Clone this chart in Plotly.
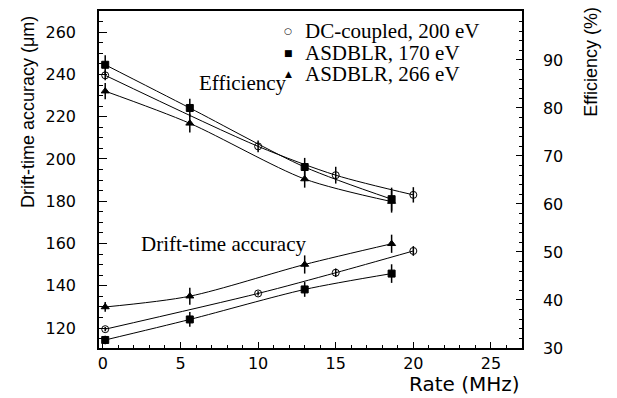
import plotly.graph_objects as go

# ---- data ----
rate_dc = [0.15, 10, 15, 20]
rate_asd = [0.15, 5.6, 13, 18.6]

eff_dc = [86.8, 72.0, 66.0, 61.9]
eff_dc_err = [1.0, 1.2, 1.75, 1.6]
eff_170 = [89.0, 80.0, 67.7, 61.0]
eff_170_err = [2.0, 1.9, 1.9, 2.4]
eff_266 = [83.5, 76.8, 65.2, 60.5]
eff_266_err = [1.7, 1.9, 1.8, 2.3]

acc_dc = [119.5, 136.4, 146.2, 156.5]
acc_dc_err = [1.0, 1.0, 2.0, 2.3]
acc_170 = [114.4, 124.1, 138.3, 145.8]
acc_170_err = [2.0, 3.5, 3.5, 4.4]
acc_266 = [130.0, 135.1, 150.1, 159.9]
acc_266_err = [2.3, 4.0, 4.3, 4.3]

series_names = ["DC-coupled, 200 eV", "ASDBLR, 170 eV", "ASDBLR, 266 eV"]
legend_symbols = ["○", "■", "▲"]

x_ticks = [0, 5, 10, 15, 20, 25]
left_ticks = [120, 140, 160, 180, 200, 220, 240, 260]
right_ticks = [30, 40, 50, 60, 70, 80, 90, 100]

symbols = ["circle-open", "square", "triangle-up"]

fig = go.Figure()

groups = [
    (rate_dc, eff_dc, eff_dc_err, acc_dc, acc_dc_err),
    (rate_asd, eff_170, eff_170_err, acc_170, acc_170_err),
    (rate_asd, eff_266, eff_266_err, acc_266, acc_266_err),
]

for i, (xs, eff, effe, acc, acce) in enumerate(groups):
    for ys, es, ax in ((eff, effe, "y2"), (acc, acce, "y")):
        fig.add_trace(go.Scatter(
            x=xs, y=ys, yaxis=ax, mode="lines+markers",
            line=dict(color="black", width=1, shape="spline", smoothing=0.8),
            marker=dict(symbol=symbols[i], size=7, color="black",
                        line=dict(color="black", width=1)),
            error_y=dict(type="data", array=es, visible=True,
                         color="black", thickness=1.5, width=0),
            showlegend=False, name=series_names[i],
        ))

tick_font = dict(family="DejaVu Sans", size=16, color="black")

# the page body adds an 8px margin, so the figure is sized to fit the window
fig.update_layout(
    width=609, height=390,
    margin=dict(l=91, r=95, t=1, b=50),
    paper_bgcolor="white", plot_bgcolor="white",
    showlegend=False,
    xaxis=dict(
        range=[-0.25, 27], tickvals=x_ticks, ticks="inside", ticklen=6,
        tickwidth=1.2, tickcolor="black", showline=True, linecolor="black",
        linewidth=1.5, mirror=True, showgrid=False, zeroline=False,
        tickfont=tick_font,
        minor=dict(dtick=1, ticks="inside", ticklen=3, tickcolor="black"),
    ),
    yaxis=dict(
        range=[110.6, 270], tickvals=left_ticks, ticks="inside", ticklen=8,
        tickwidth=1.2, tickcolor="black", showline=True, linecolor="black",
        linewidth=1.5, showgrid=False, zeroline=False, tickfont=tick_font,
        ticklabelstandoff=18,
        minor=dict(dtick=5, ticks="inside", ticklen=4, tickcolor="black"),
    ),
    yaxis2=dict(
        range=[30, 100.2], tickvals=right_ticks, overlaying="y", side="right",
        ticks="inside", ticklen=6, tickwidth=1.2, tickcolor="black",
        showline=True, linecolor="black", linewidth=1.5, showgrid=False,
        zeroline=False, tickfont=tick_font, ticklabelstandoff=16,
        minor=dict(dtick=2, ticks="inside", ticklen=3, tickcolor="black"),
    ),
)

ann = []
sans = "Liberation Sans"
serif = "Liberation Serif"
ann.append(dict(text="Drift-time accuracy (μm)", xref="paper", yref="paper",
                x=-0.168, y=0.700, textangle=-90, showarrow=False,
                font=dict(family=sans, size=18, color="black"),
                xanchor="center", yanchor="middle"))
ann.append(dict(text="Efficiency (%)", xref="paper", yref="paper",
                x=1.161, y=0.85, textangle=-90, showarrow=False,
                font=dict(family=sans, size=18, color="black"),
                xanchor="center", yanchor="middle"))
ann.append(dict(text="Rate (MHz)", xref="paper", yref="paper",
                x=1.0, y=-0.108, showarrow=False,
                font=dict(family="DejaVu Sans", size=20, color="black"),
                xanchor="right", yanchor="middle"))
ann.append(dict(text="Efficiency", xref="paper", yref="paper",
                x=0.340, y=0.786, showarrow=False,
                font=dict(family=serif, size=21, color="black"),
                xanchor="center", yanchor="middle"))
ann.append(dict(text="Drift-time accuracy", xref="paper", yref="paper",
                x=0.2955, y=0.310, showarrow=False,
                font=dict(family=serif, size=21, color="black"),
                xanchor="center", yanchor="middle"))

legend_y = [0.940, 0.876, 0.814]
for name, sym, ly in zip(series_names, legend_symbols, legend_y):
    ann.append(dict(text=name, xref="paper", yref="paper", x=0.483, y=ly,
                    showarrow=False, xanchor="left", yanchor="middle",
                    font=dict(family=serif, size=21, color="black")))
    ann.append(dict(text=sym, xref="paper", yref="paper", x=0.447, y=ly,
                    showarrow=False, xanchor="center", yanchor="middle",
                    font=dict(family="DejaVu Sans", size=9, color="black")))

fig.update_layout(annotations=ann)
fig.write_html("out.html")
